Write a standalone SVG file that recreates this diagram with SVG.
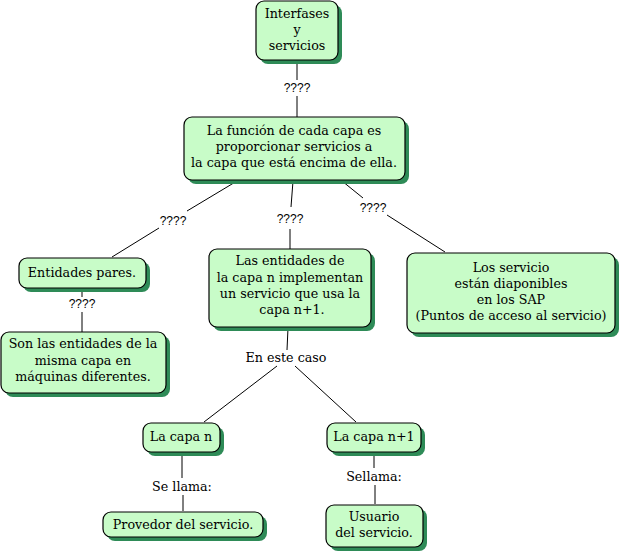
<svg xmlns="http://www.w3.org/2000/svg" width="620" height="554" viewBox="0 0 620 554">
<style>
.sh{fill:#2e8b57}
.bx{fill:#c8fcc8;stroke:#000;stroke-width:1.2}
.t{font-family:"DejaVu Serif","Liberation Serif",serif;font-size:12.7px;fill:#000;text-anchor:middle}
.q{font-family:"Liberation Sans",Arial,sans-serif;font-size:12px;fill:#000;text-anchor:middle}
.c line{stroke:#000;stroke-width:1}
</style>
<rect width="620" height="554" fill="#fff"/>
<g class="c" id="connectors">
<line x1="297" y1="61" x2="297" y2="80"/>
<line x1="297" y1="96" x2="297" y2="117"/>
<line x1="237" y1="181" x2="187" y2="211"/>
<line x1="159" y1="228" x2="112" y2="257"/>
<line x1="293" y1="181" x2="291" y2="207"/>
<line x1="290" y1="229" x2="290" y2="249"/>
<line x1="342" y1="181" x2="363" y2="198"/>
<line x1="387" y1="215" x2="445" y2="252"/>
<line x1="82" y1="289" x2="82" y2="297"/>
<line x1="82" y1="312" x2="82" y2="332"/>
<line x1="288" y1="328" x2="287" y2="350"/>
<line x1="277" y1="366" x2="204" y2="422"/>
<line x1="295" y1="366" x2="356" y2="422"/>
<line x1="182" y1="453" x2="182" y2="478"/>
<line x1="183" y1="495" x2="183" y2="511"/>
<line x1="374" y1="453" x2="374" y2="468"/>
<line x1="375" y1="485" x2="375" y2="504"/>
<text class="q" x="297" y="92">????</text>
<text class="q" x="173" y="225">????</text>
<text class="q" x="290" y="223">????</text>
<text class="q" x="373" y="212">????</text>
<text class="q" x="82" y="308">????</text>
<text class="t" x="286" y="362">En este caso</text>
<text class="t" x="182" y="491">Se llama:</text>
<text class="t" x="374" y="481">Sellama:</text>
</g>
<g id="n1">
<rect class="sh" x="260" y="5" width="82" height="59" rx="8"/>
<rect class="bx" x="256" y="1" width="82" height="59" rx="8"/>
<text class="t" x="297" y="18">Interfases</text>
<text class="t" x="297" y="34">y</text>
<text class="t" x="297" y="50">servicios</text>
</g>
<g id="n2">
<rect class="sh" x="188" y="121" width="221" height="63" rx="8"/>
<rect class="bx" x="184" y="117" width="221" height="63" rx="8"/>
<text class="t" x="294" y="135">La función de cada capa es</text>
<text class="t" x="294" y="151">proporcionar servicios a</text>
<text class="t" x="294" y="167">la capa que está encima de ella.</text>
</g>
<g id="n3">
<rect class="sh" x="23" y="262" width="127" height="30" rx="8"/>
<rect class="bx" x="19" y="258" width="127" height="30" rx="8"/>
<text class="t" x="82" y="277">Entidades pares.</text>
</g>
<g id="n4">
<rect class="sh" x="5" y="336" width="165" height="61" rx="8"/>
<rect class="bx" x="1" y="332" width="165" height="61" rx="8"/>
<text class="t" x="83" y="348">Son las entidades de la</text>
<text class="t" x="83" y="365">misma capa en</text>
<text class="t" x="83" y="381">máquinas diferentes.</text>
</g>
<g id="n5">
<rect class="sh" x="213" y="253" width="162" height="78" rx="8"/>
<rect class="bx" x="209" y="249" width="162" height="78" rx="8"/>
<text class="t" x="290" y="265">Las entidades de</text>
<text class="t" x="290" y="282">la capa n implementan</text>
<text class="t" x="290" y="298">un servicio que usa la</text>
<text class="t" x="292" y="314">capa n+1.</text>
</g>
<g id="n6">
<rect class="sh" x="411" y="257" width="208" height="80" rx="8"/>
<rect class="bx" x="407" y="253" width="208" height="80" rx="8"/>
<text class="t" x="511" y="272">Los servicio</text>
<text class="t" x="511" y="288">están diaponibles</text>
<text class="t" x="511" y="304">en los SAP</text>
<text class="t" x="511" y="320">(Puntos de acceso al servicio)</text>
</g>
<g id="n7">
<rect class="sh" x="147" y="427" width="77" height="29" rx="8"/>
<rect class="bx" x="143" y="423" width="77" height="29" rx="8"/>
<text class="t" x="181" y="441">La capa n</text>
</g>
<g id="n8">
<rect class="sh" x="331" y="427" width="94" height="29" rx="8"/>
<rect class="bx" x="327" y="423" width="94" height="29" rx="8"/>
<text class="t" x="374" y="441">La capa n+1</text>
</g>
<g id="n9">
<rect class="sh" x="107" y="516" width="160" height="25" rx="8"/>
<rect class="bx" x="103" y="512" width="160" height="25" rx="8"/>
<text class="t" x="183" y="529">Provedor del servicio.</text>
</g>
<g id="n10">
<rect class="sh" x="330" y="509" width="97" height="42" rx="8"/>
<rect class="bx" x="326" y="505" width="97" height="42" rx="8"/>
<text class="t" x="374" y="521">Usuario</text>
<text class="t" x="374" y="537">del servicio.</text>
</g>
</svg>
